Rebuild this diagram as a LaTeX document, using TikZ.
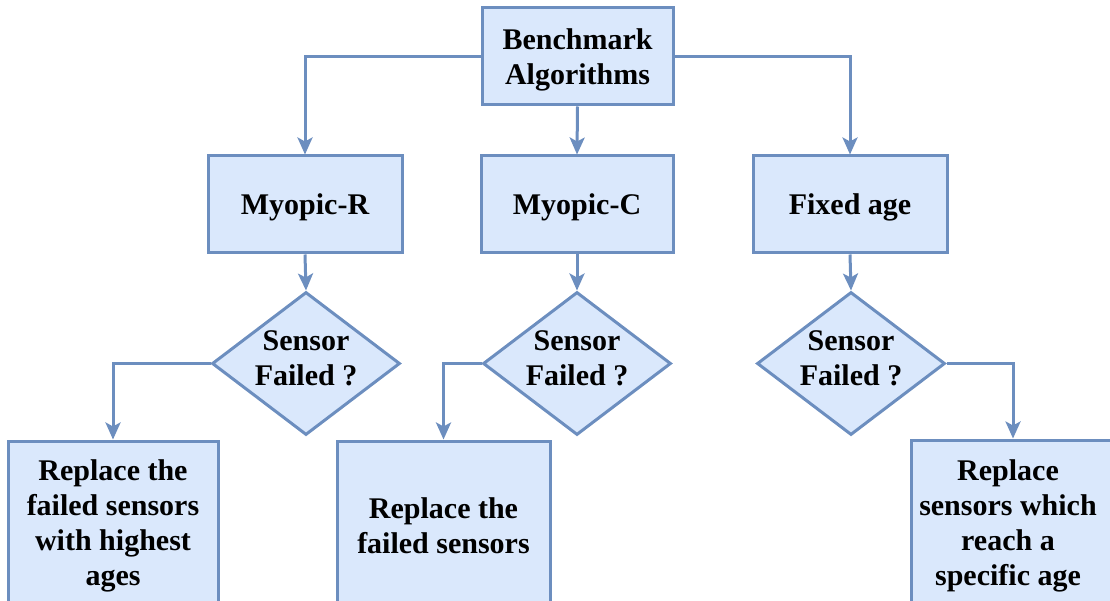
\documentclass[tikz,border=0pt]{standalone}
\usepackage{fontspec}
\setmainfont{Liberation Serif}
\usetikzlibrary{shapes.geometric,arrows.meta}
\definecolor{boxfill}{HTML}{DAE8FC}
\definecolor{boxline}{HTML}{6C8EBF}
\tikzset{
  x=1pt, y=-1pt,
  every node/.style={font=\bfseries\fontsize{30}{35}\selectfont, align=center, text=black},
  blockbox/.style={draw=boxline, fill=boxfill, line width=3pt, rectangle, inner sep=0pt},
  decision/.style={draw=boxline, fill=boxfill, line width=3pt, diamond, inner sep=0pt,
    minimum width=188pt, minimum height=143pt},
  conn/.style={draw=boxline, line width=3pt,
    -{Stealth[length=17pt, width=15pt, inset=4pt, fill=boxline]}},
}
\begin{document}
\begin{tikzpicture}
\useasboundingbox (0,0) rectangle (1110,601);
\clip (0,0) rectangle (1110,601);

% top level
\node[blockbox, minimum width=191pt, minimum height=97pt] (bench) at (577.5,56.5) {};
\node at (577.5,60) {Benchmark\\Algorithms};

% algorithms
\node[blockbox, minimum width=194pt, minimum height=97pt] (mr) at (305,204.5) {};
\node at (305,207) {Myopic-R};
\node[blockbox, minimum width=192pt, minimum height=97pt] (mc) at (577,204.5) {};
\node at (577,207) {Myopic-C};
\node[blockbox, minimum width=194pt, minimum height=97pt] (fa) at (850,204.5) {};
\node at (850,207) {Fixed age};

% decisions
\node[decision] (d1) at (306,363.5) {};
\node at (306,358) {Sensor\\Failed ?};
\node[decision] (d2) at (577,363.5) {};
\node at (577,358) {Sensor\\Failed ?};
\node[decision] (d3) at (851,363.5) {};
\node at (851,358) {Sensor\\Failed ?};

% actions
\node[blockbox, minimum width=210pt, minimum height=170pt] (bl) at (113,526) {Replace the\\failed sensors\\with highest\\ages};
\node[blockbox, minimum width=213pt, minimum height=170pt] (bm) at (443.5,526) {Replace the\\failed sensors};
\node[blockbox, minimum width=204pt, minimum height=170pt] (br) at (1013,525) {};
\node at (1008,526) {Replace\\sensors which\\reach a\\specific age};

% connectors
\draw[conn] (bench.west) -| (mr.north);
\draw[conn] (bench.south) -- (mc.north);
\draw[conn] (bench.east) -| (fa.north);
\draw[conn] (mr.south) -- (d1.north);
\draw[conn] (mc.south) -- (d2.north);
\draw[conn] (fa.south) -- (d3.north);
\draw[conn] (d1.west) -| (bl.north);
\draw[conn] (d2.west) -| (bm.north);
\draw[conn] (d3.east) -| (br.north);
\end{tikzpicture}
\end{document}
